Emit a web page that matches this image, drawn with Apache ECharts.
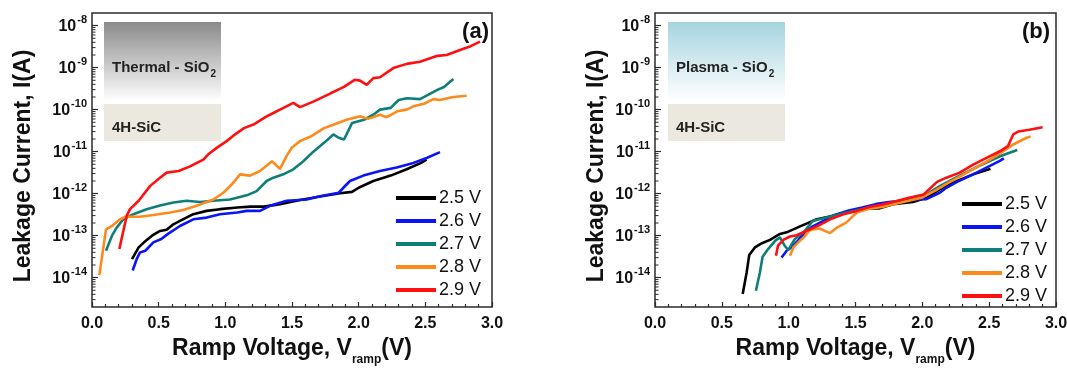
<!DOCTYPE html>
<html>
<head>
<meta charset="utf-8">
<script src="https://cdn.jsdelivr.net/npm/echarts@6/dist/echarts.min.js"></script>
<style>
  html, body { margin: 0; padding: 0; background: #fff; }
  #chart { width: 1067px; height: 368px; }
</style>
</head>
<body>
<div id="chart"></div>
<script>
  // ramp voltage levels (legend)
  const rampNames = ['2.5 V', '2.6 V', '2.7 V', '2.8 V', '2.9 V'];
  const lineColors = ['#000000', '#0a14f5', '#0e7f78', '#ff8a1c', '#ff1010'];

  // log axis minor tick positions: mantissa x 10^decade
  const minorMantissas = [2, 3, 4, 5, 6, 7, 8, 9];
  const minorDecades = [-15, -14, -13, -12, -11, -10, -9, -8];

  // (a) Thermal SiO2 : voltage (V) / leakage current (A)
  const thermV25 = [0.30, 0.35, 0.39, 0.45, 0.51, 0.56, 0.61, 0.66, 0.76, 0.86, 0.96, 1.09, 1.19, 1.29, 1.41, 1.56, 1.71, 1.86, 1.95, 2.00, 2.11, 2.24, 2.36, 2.46, 2.51];
  const thermI25 = [2.75e-14, 5.25e-14, 6.92e-14, 1.0e-13, 1.29e-13, 1.38e-13, 1.86e-13, 2.24e-13, 3.24e-13, 3.89e-13, 4.27e-13, 4.68e-13, 4.9e-13, 4.9e-13, 5.62e-13, 7.08e-13, 8.51e-13, 1.02e-12, 1.1e-12, 1.38e-12, 2.0e-12, 2.69e-12, 3.8e-12, 5.25e-12, 6.46e-12];
  const thermV26 = [0.305, 0.335, 0.36, 0.40, 0.46, 0.52, 0.57, 0.66, 0.76, 0.86, 0.96, 1.09, 1.16, 1.26, 1.335, 1.46, 1.61, 1.71, 1.85, 1.885, 1.935, 2.035, 2.16, 2.285, 2.41, 2.51, 2.61];
  const thermI26 = [1.48e-14, 2.75e-14, 3.98e-14, 4.37e-14, 6.92e-14, 8.32e-14, 1.1e-13, 1.7e-13, 2.45e-13, 2.69e-13, 3.24e-13, 3.55e-13, 3.89e-13, 3.89e-13, 5.13e-13, 6.76e-13, 7.24e-13, 8.71e-13, 1.05e-12, 1.38e-12, 2.0e-12, 2.69e-12, 3.47e-12, 4.17e-12, 5.37e-12, 7.08e-12, 9.77e-12];
  const thermV27 = [0.105, 0.15, 0.185, 0.235, 0.31, 0.41, 0.51, 0.61, 0.71, 0.81, 0.91, 1.035, 1.16, 1.235, 1.31, 1.36, 1.435, 1.51, 1.585, 1.66, 1.74, 1.81, 1.85, 1.89, 1.95, 2.04, 2.11, 2.16, 2.24, 2.30, 2.36, 2.46, 2.52, 2.59, 2.64, 2.71];
  const thermI27 = [4.37e-14, 1.0e-13, 1.55e-13, 2.45e-13, 3.24e-13, 4.27e-13, 5.25e-13, 6.17e-13, 6.76e-13, 6.31e-13, 6.76e-13, 7.24e-13, 9.12e-13, 1.15e-12, 2.0e-12, 2.4e-12, 2.88e-12, 3.8e-12, 5.89e-12, 1.0e-11, 1.62e-11, 2.57e-11, 2.14e-11, 1.95e-11, 4.79e-11, 5.75e-11, 7.59e-11, 1.0e-10, 1.1e-10, 1.7e-10, 1.86e-10, 1.78e-10, 2.24e-10, 2.95e-10, 3.47e-10, 5.37e-10];
  const thermV28 = [0.055, 0.105, 0.15, 0.21, 0.25, 0.36, 0.46, 0.585, 0.685, 0.785, 0.91, 0.985, 1.06, 1.11, 1.185, 1.26, 1.35, 1.41, 1.46, 1.50, 1.56, 1.64, 1.74, 1.81, 1.91, 2.01, 2.07, 2.16, 2.21, 2.29, 2.36, 2.41, 2.49, 2.56, 2.61, 2.71, 2.81];
  const thermI28 = [1.15e-14, 1.41e-13, 1.7e-13, 2.45e-13, 2.82e-13, 2.82e-13, 3.09e-13, 3.55e-13, 4.07e-13, 5.13e-13, 7.24e-13, 1.05e-12, 1.82e-12, 2.88e-12, 2.69e-12, 3.47e-12, 5.89e-12, 3.89e-12, 7.94e-12, 1.26e-11, 1.78e-11, 2.29e-11, 3.63e-11, 4.37e-11, 5.75e-11, 6.92e-11, 6.03e-11, 7.59e-11, 6.61e-11, 9.12e-11, 1.0e-10, 1.2e-10, 1.38e-10, 1.78e-10, 1.7e-10, 2.0e-10, 2.14e-10];
  const thermV29 = [0.205, 0.26, 0.285, 0.35, 0.435, 0.51, 0.56, 0.65, 0.735, 0.835, 0.87, 0.935, 1.01, 1.06, 1.14, 1.22, 1.30, 1.36, 1.41, 1.51, 1.56, 1.66, 1.79, 1.89, 1.97, 2.01, 2.06, 2.11, 2.16, 2.26, 2.36, 2.46, 2.59, 2.66, 2.76, 2.84, 2.91];
  const thermI29 = [4.79e-14, 2.95e-13, 4.27e-13, 6.76e-13, 1.51e-12, 2.4e-12, 3.16e-12, 3.47e-12, 4.47e-12, 6.46e-12, 8.51e-12, 1.23e-11, 1.78e-11, 2.4e-11, 3.63e-11, 4.57e-11, 6.61e-11, 8.32e-11, 1.0e-10, 1.45e-10, 1.15e-10, 1.55e-10, 2.45e-10, 3.47e-10, 5.13e-10, 4.9e-10, 3.89e-10, 5.62e-10, 5.89e-10, 9.77e-10, 1.23e-9, 1.38e-9, 1.91e-9, 2.0e-9, 2.63e-9, 3.24e-9, 4.17e-9];

  // (b) Plasma SiO2 : voltage (V) / leakage current (A)
  const plasmaV25 = [0.656, 0.686, 0.705, 0.748, 0.80, 0.86, 0.935, 0.985, 1.035, 1.085, 1.15, 1.21, 1.30, 1.40, 1.50, 1.60, 1.68, 1.78, 1.93, 2.03, 2.13, 2.26, 2.38, 2.51];
  const plasmaI25 = [4.07e-15, 1.35e-14, 3.47e-14, 5.25e-14, 6.61e-14, 7.94e-14, 1.1e-13, 1.2e-13, 1.41e-13, 1.66e-13, 2.04e-13, 2.45e-13, 2.82e-13, 3.39e-13, 3.89e-13, 4.47e-13, 4.47e-13, 5.62e-13, 6.31e-13, 7.94e-13, 1.26e-12, 2.0e-12, 2.88e-12, 3.89e-12];
  const plasmaV26 = [0.947, 0.985, 1.02, 1.07, 1.12, 1.18, 1.26, 1.35, 1.45, 1.55, 1.65, 1.75, 1.85, 1.95, 2.03, 2.13, 2.18, 2.26, 2.38, 2.48, 2.58, 2.61];
  const plasmaI26 = [3.02e-14, 4.37e-14, 5.25e-14, 7.59e-14, 1.2e-13, 1.66e-13, 2.24e-13, 3.16e-13, 3.98e-13, 4.68e-13, 5.62e-13, 6.31e-13, 6.76e-13, 7.24e-13, 7.41e-13, 1.05e-12, 1.38e-12, 1.91e-12, 2.88e-12, 4.17e-12, 6.03e-12, 6.92e-12];
  const plasmaV27 = [0.755, 0.785, 0.805, 0.846, 0.90, 0.935, 0.97, 0.997, 1.047, 1.12, 1.18, 1.28, 1.38, 1.50, 1.60, 1.70, 1.80, 1.90, 2.00, 2.13, 2.25, 2.38, 2.48, 2.58, 2.71];
  const plasmaI27 = [4.9e-15, 1.35e-14, 3.16e-14, 4.79e-14, 7.59e-14, 9.12e-14, 5.75e-14, 4.57e-14, 8.32e-14, 1.29e-13, 2.24e-13, 2.69e-13, 3.24e-13, 3.98e-13, 4.68e-13, 5.37e-13, 6.17e-13, 7.08e-13, 8.32e-13, 1.51e-12, 2.4e-12, 3.89e-12, 5.5e-12, 7.76e-12, 1.1e-11];
  const plasmaV28 = [1.01, 1.035, 1.085, 1.12, 1.15, 1.18, 1.23, 1.31, 1.36, 1.43, 1.51, 1.60, 1.70, 1.80, 1.90, 2.00, 2.10, 2.20, 2.30, 2.40, 2.50, 2.60, 2.68, 2.78, 2.81];
  const plasmaI28 = [3.31e-14, 5.25e-14, 7.59e-14, 9.55e-14, 1.29e-13, 1.41e-13, 1.48e-13, 1.15e-13, 1.55e-13, 2.04e-13, 3.55e-13, 4.37e-13, 4.79e-13, 5.75e-13, 6.76e-13, 8.13e-13, 1.2e-12, 1.86e-12, 2.75e-12, 4.17e-12, 6.31e-12, 1.0e-11, 1.48e-11, 2.14e-11, 2.29e-11];
  const plasmaV29 = [0.905, 0.92, 0.96, 1.01, 1.06, 1.13, 1.23, 1.31, 1.41, 1.51, 1.60, 1.70, 1.80, 1.90, 2.01, 2.11, 2.18, 2.28, 2.38, 2.48, 2.58, 2.64, 2.68, 2.72, 2.80, 2.90];
  const plasmaI29 = [3.31e-14, 5.75e-14, 7.94e-14, 9.55e-14, 1.02e-13, 1.29e-13, 1.78e-13, 2.45e-13, 3.24e-13, 3.89e-13, 4.79e-13, 5.5e-13, 6.61e-13, 7.94e-13, 9.55e-13, 1.91e-12, 2.4e-12, 3.16e-12, 4.9e-12, 7.08e-12, 1.02e-11, 1.35e-11, 2.57e-11, 3.02e-11, 3.31e-11, 3.8e-11];

  const thermV = [thermV25, thermV26, thermV27, thermV28, thermV29];
  const thermI = [thermI25, thermI26, thermI27, thermI28, thermI29];
  const plasmaV = [plasmaV25, plasmaV26, plasmaV27, plasmaV28, plasmaV29];
  const plasmaI = [plasmaI25, plasmaI26, plasmaI27, plasmaI28, plasmaI29];

  const FONT = 'Arial, "Liberation Sans", Helvetica, sans-serif';
  const INK = '#111';
  const FRAME = '#2b2b2b';
  const Y_MIN = 2e-15;
  const Y_MAX = 2e-8;

  const chart = echarts.init(document.getElementById('chart'), null, { renderer: 'canvas' });

  function pairs(xs, ys) {
    return xs.map((x, i) => [x, ys[i]]);
  }

  const minorTickValues = [];
  minorDecades.forEach((d) => {
    minorMantissas.forEach((m) => {
      const v = m * Math.pow(10, d);
      if (v > Y_MIN * 1.01 && v < Y_MAX * 0.99) minorTickValues.push(v);
    });
  });

  function makeX(gridIndex) {
    return {
      type: 'value',
      gridIndex: gridIndex,
      min: 0,
      max: 3,
      interval: 0.5,
      name: '{m|Ramp Voltage, V}{sub|ramp}{m|(V)}',
      nameLocation: 'middle',
      nameGap: 30,
      nameTextStyle: {
        rich: {
          m: { fontFamily: FONT, fontSize: 23, fontWeight: 'bold', color: INK, lineHeight: 26, verticalAlign: 'top' },
          sub: { fontFamily: FONT, fontSize: 12, fontWeight: 'bold', color: INK, lineHeight: 13, verticalAlign: 'top', padding: [17, 0, 0, 0] }
        }
      },
      axisLine: { show: false },
      axisTick: { show: true, inside: true, length: 5, lineStyle: { color: FRAME, width: 1.2 } },
      minorTick: { show: true, splitNumber: 5, length: 3, lineStyle: { color: FRAME, width: 1.2 } },
      splitLine: { show: false },
      axisLabel: {
        margin: 9,
        fontFamily: FONT,
        fontSize: 16,
        fontWeight: 'bold',
        color: INK,
        formatter: (v) => v.toFixed(1)
      }
    };
  }

  function makeY(gridIndex, gap) {
    return {
      type: 'log',
      logBase: 10,
      gridIndex: gridIndex,
      min: Y_MIN,
      max: Y_MAX,
      name: 'Leakage Current, I(A)',
      nameLocation: 'middle',
      nameRotate: 90,
      nameGap: gap,
      nameTextStyle: { fontFamily: FONT, fontSize: 23, fontWeight: 'bold', color: INK, padding: [0, 12, 0, 0] },
      axisLine: { show: false },
      axisTick: { show: true, inside: true, length: 6, lineStyle: { color: FRAME, width: 1.2 } },
      splitLine: { show: false },
      axisLabel: {
        margin: 5,
        showMinLabel: false,
        showMaxLabel: false,
        formatter: function (v) {
          const e = Math.log10(v);
          const r = Math.round(e);
          if (Math.abs(e - r) > 1e-6) return '';
          return '{b|10}{s|' + (r < 0 ? '-' + (-r) : r) + '}';
        },
        rich: {
          b: { fontFamily: FONT, fontSize: 16, fontWeight: 'bold', color: INK, lineHeight: 18, verticalAlign: 'bottom' },
          s: { fontFamily: FONT, fontSize: 11, fontWeight: 'bold', color: INK, lineHeight: 12, verticalAlign: 'bottom', padding: [0, 0, 9, 1] }
        }
      }
    };
  }

  const series = [];
  rampNames.forEach((name, k) => {
    series.push({
      name: name, type: 'line', xAxisIndex: 0, yAxisIndex: 0,
      data: pairs(thermV[k], thermI[k]),
      symbol: 'none', showSymbol: false,
      lineStyle: { color: lineColors[k], width: 2.6 },
      itemStyle: { color: lineColors[k] },
      z: 3 + k
    });
  });
  rampNames.forEach((name, k) => {
    series.push({
      name: name, type: 'line', xAxisIndex: 1, yAxisIndex: 1,
      data: pairs(plasmaV[k], plasmaI[k]),
      symbol: 'none', showSymbol: false,
      lineStyle: { color: lineColors[k], width: 2.6 },
      itemStyle: { color: lineColors[k] },
      z: 3 + k
    });
  });

  // logarithmic minor ticks on the left axes, placed through the axis scale
  [0, 1].forEach((g) => {
    series.push({
      name: 'minor-ticks-' + g,
      type: 'custom',
      xAxisIndex: g,
      yAxisIndex: g,
      silent: true,
      clip: false,
      z: 2,
      data: minorTickValues.map((v) => [0, v]),
      renderItem: function (params, api) {
        const p = api.coord([0, api.value(1)]);
        return {
          type: 'line',
          shape: { x1: p[0], y1: p[1], x2: p[0] + 3.5, y2: p[1] },
          style: { stroke: FRAME, lineWidth: 1 }
        };
      }
    });
  });

  function makeLegend(left, top) {
    return {
      data: rampNames,
      orient: 'vertical',
      left: left,
      top: top,
      padding: 0,
      icon: 'rect',
      itemWidth: 40,
      itemHeight: 4,
      itemGap: 5,
      selectedMode: false,
      textStyle: { fontFamily: FONT, fontSize: 18, lineHeight: 18, color: INK, padding: [0, 0, 0, -2] }
    };
  }

  function inset(x, topColor, label) {
    return [
      {
        type: 'rect', z: 1,
        shape: { x: x, y: 22, width: 117, height: 79 },
        style: {
          fill: new echarts.graphic.LinearGradient(0, 0, 0, 1, [
            { offset: 0, color: topColor },
            { offset: 1, color: '#ffffff' }
          ])
        }
      },
      {
        type: 'rect', z: 1,
        shape: { x: x, y: 104, width: 117, height: 37 },
        style: { fill: '#ebe8df' }
      },
      {
        type: 'text', z: 2, x: x + 8, y: 60,
        style: {
          text: '{m|' + label + ' - SiO}{s|2}',
          rich: {
            m: { fontFamily: FONT, fontSize: 15, fontWeight: 'bold', fill: '#222', lineHeight: 18, verticalAlign: 'top' },
            s: { fontFamily: FONT, fontSize: 10, fontWeight: 'bold', fill: '#222', lineHeight: 12, verticalAlign: 'top', padding: [9, 0, 0, 1] }
          }
        }
      },
      {
        type: 'text', z: 2, x: x + 8, y: 128,
        style: { text: '4H-SiC', font: 'bold 15px ' + FONT, fill: '#222', verticalAlign: 'middle' }
      }
    ];
  }

  const graphics = [].concat(
    inset(104, '#8a8a8a', 'Thermal'),
    inset(668, '#a6d4df', 'Plasma'),
    [
      { type: 'text', z: 5, x: 489, y: 32, style: { text: '(a)', font: 'bold 22px ' + FONT, fill: INK, textAlign: 'right', verticalAlign: 'middle' } },
      { type: 'text', z: 5, x: 1050, y: 32, style: { text: '(b)', font: 'bold 22px ' + FONT, fill: INK, textAlign: 'right', verticalAlign: 'middle' } }
    ]
  );

  chart.setOption({
    animation: false,
    backgroundColor: '#ffffff',
    grid: [
      { left: 92, top: 13, width: 400, height: 294, outerBoundsMode: 'none', show: true, borderColor: FRAME, borderWidth: 1.5, backgroundColor: 'transparent' },
      { left: 655, top: 13, width: 401, height: 294, outerBoundsMode: 'none', show: true, borderColor: FRAME, borderWidth: 1.5, backgroundColor: 'transparent' }
    ],
    xAxis: [makeX(0), makeX(1)],
    yAxis: [makeY(0, 57), makeY(1, 47)],
    legend: [makeLegend(396, 189), makeLegend(962, 195)],
    graphic: graphics,
    series: series
  });
</script>
</body>
</html>
